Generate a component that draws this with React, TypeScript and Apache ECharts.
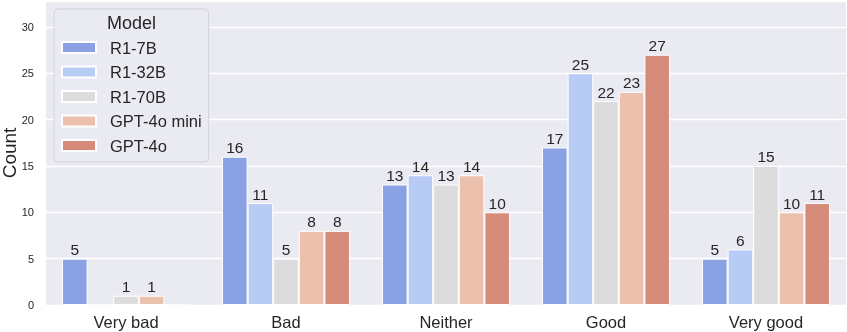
import React, { useEffect, useRef } from "react";
import * as echarts from "echarts";

const categories = ["Very bad", "Bad", "Neither", "Good", "Very good"];
const models = ["R1-7B", "R1-32B", "R1-70B", "GPT-4o mini", "GPT-4o"];
const r17b = [5, 16, 13, 17, 5];
const r132b = [0, 11, 14, 25, 6];
const r170b = [1, 5, 13, 22, 15];
const gpt4omini = [1, 8, 14, 23, 10];
const gpt4o = [0, 8, 10, 27, 11];
const seriesValues = [r17b, r132b, r170b, gpt4omini, gpt4o];
const colors = ["#8aa2e3", "#b8cbf4", "#dcdcdc", "#ebc0ac", "#d68a7a"];
const yTicks = [0, 5, 10, 15, 20, 25, 30];

const FONT = "Liberation Sans, Arial, sans-serif";
const TXT = "#262626";

export default function App() {
  const ref = useRef<HTMLDivElement>(null);
  useEffect(() => {
    if (!ref.current) return;
    const chart = echarts.init(ref.current, undefined, { renderer: "svg" });
    chart.setOption({
      animation: false,
      textStyle: { fontFamily: FONT },
      grid: {
        left: 46,
        right: 1,
        top: 1,
        bottom: 27,
        show: true,
        backgroundColor: "#eaeaf2",
        borderWidth: 0,
      },
      legend: {
        orient: "vertical",
        left: 54,
        top: 9,
        data: models,
        itemWidth: 34,
        itemHeight: 11,
        itemGap: 7.5,
        padding: [30, 7, 8, 7],
        backgroundColor: "#eaeaf2",
        borderColor: "#d2d2d8",
        borderWidth: 1,
        borderRadius: 4,
        icon: "rect",
        textStyle: {
          fontFamily: FONT,
          fontSize: 16.5,
          lineHeight: 16,
          color: TXT,
          padding: [0, 0, 0, 9],
        },
      },
      graphic: [
        {
          type: "text",
          x: 131.5,
          y: 23,
          z: 100,
          style: {
            text: "Model",
            fontFamily: FONT,
            fontSize: 18,
            fill: TXT,
            align: "center",
            verticalAlign: "middle",
          },
        },
        {
          type: "text",
          x: 9,
          y: 153,
          rotation: Math.PI / 2,
          style: {
            text: "Count",
            fontFamily: FONT,
            fontSize: 19,
            fill: TXT,
            align: "center",
            verticalAlign: "middle",
          },
        },
      ],
      xAxis: {
        type: "category",
        data: categories,
        axisLine: { show: false },
        axisTick: { show: false },
        splitLine: { show: false },
        axisLabel: { fontSize: 16.5, color: TXT, margin: 8, fontFamily: FONT },
      },
      yAxis: {
        type: "value",
        min: 0,
        max: 32.8,
        interval: 5,
        axisLine: { show: false },
        axisTick: { show: false },
        splitLine: { show: true, lineStyle: { color: "#ffffff", width: 1.3 } },
        axisLabel: {
          fontSize: 11,
          color: TXT,
          margin: 12,
          fontFamily: FONT,
          formatter: (v: number) => (yTicks.includes(v) ? String(v) : ""),
        },
      },
      series: models.map((m, i) => ({
        name: m,
        type: "bar",
        data: seriesValues[i],
        barGap: "0%",
        barCategoryGap: "20%",
        itemStyle: { color: colors[i], borderColor: "#ffffff", borderWidth: 1 },
        label: {
          show: true,
          position: "top",
          distance: 1,
          fontSize: 15.5,
          color: TXT,
          fontFamily: FONT,
          formatter: (p: any) => (p.value === 0 ? "" : String(p.value)),
        },
      })),
    });
    return () => chart.dispose();
  }, []);
  return (
    <div
      ref={ref}
      style={{ position: "fixed", left: 0, top: 0, width: 847, height: 332 }}
    />
  );
}
